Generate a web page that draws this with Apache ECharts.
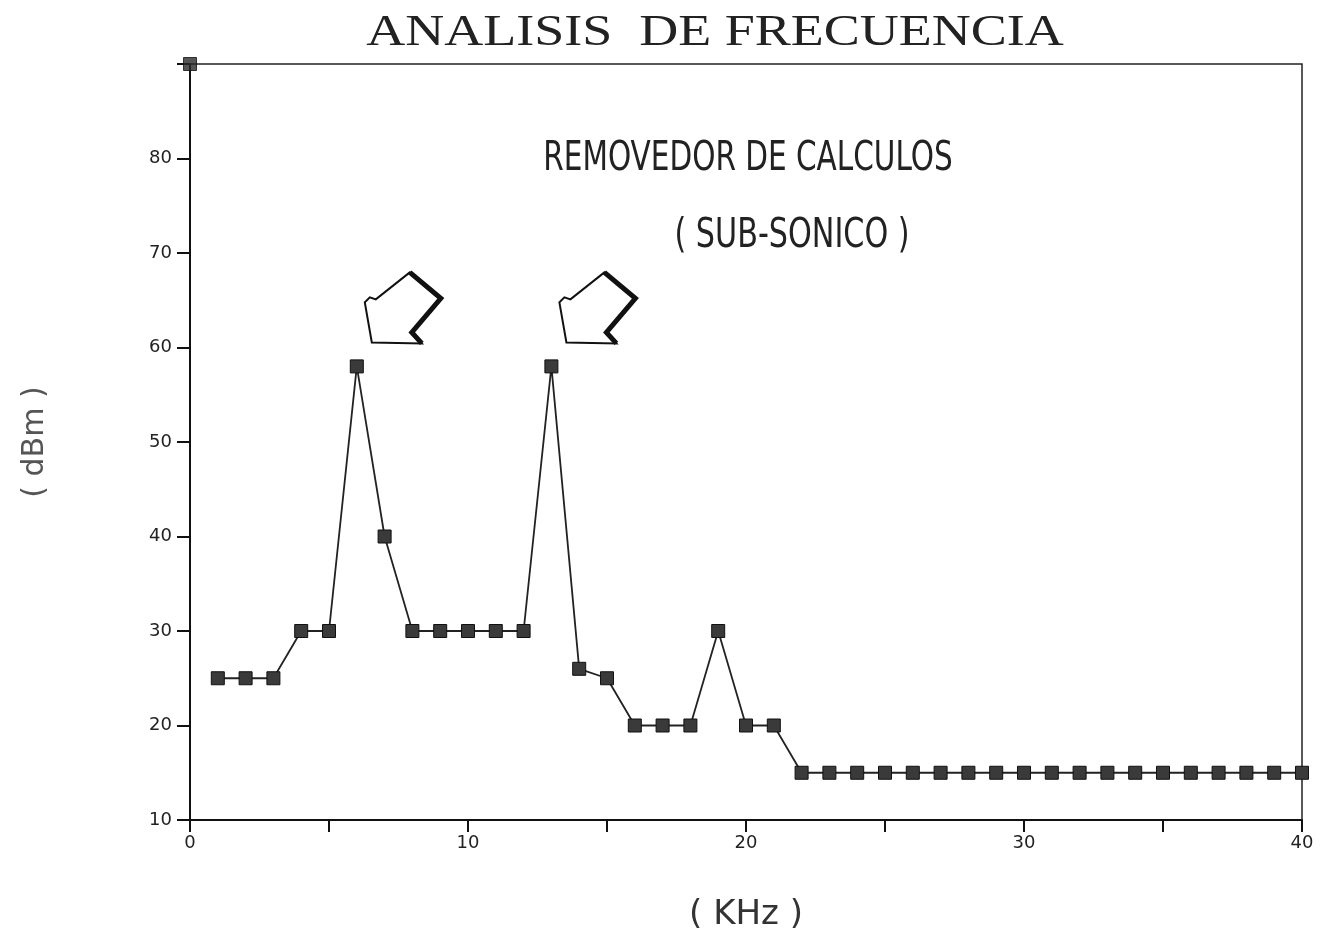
<!DOCTYPE html>
<html>
<head>
<meta charset="utf-8">
<script src="https://cdn.jsdelivr.net/npm/echarts@6/dist/echarts.min.js"></script>
<style>
html,body{margin:0;padding:0;background:#fff;}
#chart{width:1331px;height:938px;}
</style>
</head>
<body>
<div id="chart"></div>
<script>
const titleText = 'ANALISIS  DE FRECUENCIA';
const noteLine1 = 'REMOVEDOR DE CALCULOS';
const noteLine2 = '( SUB-SONICO )';
const xAxisName = '( KHz )';
const yAxisName = '( dBm )';
const freqKHz = [1,2,3,4,5,6,7,8,9,10,11,12,13,14,15,16,17,18,19,20,21,22,23,24,25,26,27,28,29,30,31,32,33,34,35,36,37,38,39,40];
const levelDbm = [25,25,25,30,30,58,40,30,30,30,30,30,58,26,25,20,20,20,30,20,20,15,15,15,15,15,15,15,15,15,15,15,15,15,15,15,15,15,15,15];
const cornerPoint = [[0, 90]];
const peakPoints = [[6, 58], [13, 58]];

const chart = echarts.init(document.getElementById('chart'));
const axisFont = {fontFamily: 'DejaVu Sans, sans-serif', fontSize: 18, color: '#222'};
chart.setOption({
  backgroundColor: '#fff',
  animation: false,
  grid: {left: 190, right: 29, top: 64, bottom: 118, show: true, borderColor: '#222', borderWidth: 1.5},
  xAxis: {
    type: 'value', min: 0, max: 40, interval: 5,
    name: xAxisName, nameLocation: 'middle', nameGap: 78,
    nameTextStyle: {fontFamily: 'DejaVu Sans, sans-serif', fontSize: 34, color: '#333'},
    axisLine: {lineStyle: {color: '#111', width: 2}},
    axisTick: {show: true, length: 12, lineStyle: {color: '#111', width: 2}},
    axisLabel: Object.assign({margin: 14, formatter: v => (v % 10 === 0 ? String(v) : '')}, axisFont),
    splitLine: {show: false}
  },
  yAxis: {
    type: 'value', min: 10, max: 90, interval: 10,
    name: yAxisName, nameLocation: 'middle', nameGap: 140, nameRotate: 90,
    nameTextStyle: {fontFamily: 'DejaVu Sans, sans-serif', fontSize: 30, color: '#555'},
    axisLine: {lineStyle: {color: '#111', width: 2}},
    axisTick: {show: true, length: 13, lineStyle: {color: '#111', width: 2}},
    axisLabel: Object.assign({margin: 18, formatter: v => (v === 90 ? '' : String(v))}, axisFont),
    splitLine: {show: false}
  },
  series: [
    {
      type: 'line', data: freqKHz.map((x, i) => [x, levelDbm[i]]),
      symbol: 'rect', symbolSize: 13,
      lineStyle: {color: '#222', width: 1.8},
      itemStyle: {color: '#3a3a3a', borderColor: '#111', borderWidth: 1}
    },
    {
      type: 'scatter', data: cornerPoint, symbol: 'rect', symbolSize: 13, clip: false,
      itemStyle: {color: '#2a2a2a', borderColor: '#111', borderWidth: 1}
    }
  ]
});

function arrowAt(px) {
  // arrow pointing down-left, tip placed above-right of the peak marker
  const tx = px[0] + 15, ty = px[1] - 24;
  const pts = [[0,0],[-7,-40],[-2,-45],[4,-43],[38,-70],[69,-44],[40,-10],[50,1]].map(p => [tx + p[0], ty + p[1]]);
  return [
    {type: 'polygon', shape: {points: pts}, style: {fill: '#fff', stroke: '#111', lineWidth: 2}, z: 10},
    {type: 'polyline', shape: {points: [pts[4], pts[5], pts[6], pts[7]]}, style: {stroke: '#111', lineWidth: 5, fill: null}, z: 11}
  ];
}
const graphics = [];
graphics.push({
  type: 'text', x: 715, y: 33, z: 12,
  style: {text: titleText, fontFamily: 'Liberation Serif, serif', fontSize: 45, fill: '#222', align: 'center', verticalAlign: 'middle'},
  scaleX: 1.2, originX: 0, originY: 0
});
peakPoints.forEach(p => { graphics.push(...arrowAt(chart.convertToPixel({gridIndex: 0}, p))); });
graphics.push({
  type: 'text', x: 748, y: 160, z: 12,
  style: {text: noteLine1, fontFamily: 'DejaVu Sans Condensed, Liberation Sans Narrow, sans-serif', fontSize: 40, fill: '#222', align: 'center', verticalAlign: 'middle'},
  scaleX: 0.82, originX: 0, originY: 0
});
graphics.push({
  type: 'text', x: 792, y: 237, z: 12,
  style: {text: noteLine2, fontFamily: 'DejaVu Sans Condensed, Liberation Sans Narrow, sans-serif', fontSize: 40, fill: '#222', align: 'center', verticalAlign: 'middle'},
  scaleX: 0.84, originX: 0, originY: 0
});
chart.setOption({graphic: graphics});
</script>
</body>
</html>
